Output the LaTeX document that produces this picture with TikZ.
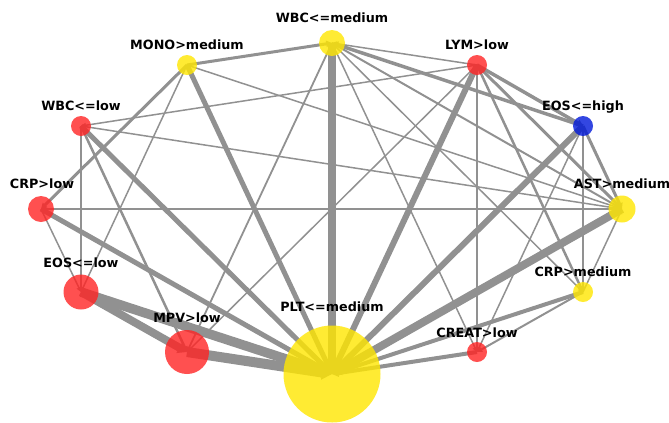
\documentclass[tikz,border=0pt]{standalone}
\usepackage{fontspec}
\setmainfont{DejaVu Sans}
\usetikzlibrary{arrows.meta,backgrounds}

\definecolor{nodered}{RGB}{255,36,36}
\definecolor{nodeyellow}{RGB}{255,230,0}
\definecolor{nodeblue}{RGB}{0,24,217}
\definecolor{edgegray}{RGB}{145,145,145}

\tikzset{
  vtx/.style={circle, draw=none, fill=#1, fill opacity=0.8, inner sep=0pt},
  lbl/.style={font=\fontsize{12.8}{15}\selectfont\bfseries, anchor=base, inner sep=0pt},
  lnk/.style={draw=edgegray, line width=#1, -{Triangle[length=4bp 0.6, width=3bp 1.1]}}
}

\begin{document}
\begin{tikzpicture}[x=1bp,y=-1bp]
\useasboundingbox (0,0) rectangle (669,422);

% nodes on an ellipse
\node[vtx=nodeyellow, minimum size=26bp] (wbcm) at (332,43) {};
\node[vtx=nodeyellow, minimum size=20bp] (mono) at (187,65) {};
\node[vtx=nodered, minimum size=20bp] (wbcl) at (81,126) {};
\node[vtx=nodered, minimum size=26bp] (crpl) at (41,209) {};
\node[vtx=nodered, minimum size=35bp] (eosl) at (81,292) {};
\node[vtx=nodered, minimum size=44bp] (mpv) at (187,352) {};
\node[vtx=nodeyellow, minimum size=97bp] (plt) at (332,374) {};
\node[vtx=nodered, minimum size=20bp] (creat) at (477,352) {};
\node[vtx=nodeyellow, minimum size=20bp] (crpm) at (583,292) {};
\node[vtx=nodeyellow, minimum size=27bp] (ast) at (622,209) {};
\node[vtx=nodeblue, minimum size=20bp] (eosh) at (583,126) {};
\node[vtx=nodered, minimum size=20bp] (lym) at (477,65) {};

\node[lbl] (lblwbcm) at (332,22.5) {WBC<=medium};
\node[lbl] (lblmono) at (187,49) {MONO>medium};
\node[lbl] (lblwbcl) at (81,110) {WBC<=low};
\node[lbl] (lblcrpl) at (42,188) {CRP>low};
\node[lbl] (lbleosl) at (81,267) {EOS<=low};
\node[lbl] (lblmpv) at (187,322) {MPV>low};
\node[lbl] (lblplt) at (332,311) {PLT<=medium};
\node[lbl] (lblcreat) at (477,337) {CREAT>low};
\node[lbl] (lblcrpm) at (583,276) {CRP>medium};
\node[lbl] (lblast) at (622,188) {AST>medium};
\node[lbl] (lbleosh) at (583,110) {EOS<=high};
\node[lbl] (lbllym) at (477,49.5) {LYM>low};

\begin{scope}[on background layer]
% into PLT<=medium
\draw[lnk=8.5bp] (wbcm.center) -- (plt.center);
\draw[lnk=8bp] (ast.center) -- (plt.center);
\draw[lnk=9.5bp] (eosl.center) -- (plt.center);
\draw[lnk=10bp] (mpv.center) -- (plt.center);
\draw[lnk=6bp] (lym.center) -- (plt.center);
\draw[lnk=6bp] (eosh.center) -- (plt.center);
\draw[lnk=5bp] (mono.center) -- (plt.center);
\draw[lnk=5bp] (wbcl.center) -- (plt.center);
\draw[lnk=5bp] (crpl.center) -- (plt.center);
\draw[lnk=4bp] (crpm.center) -- (plt.center);
\draw[lnk=4bp] (creat.center) -- (plt.center);
% into MPV>low
\draw[lnk=8bp] (eosl.center) -- (mpv.center);
\draw[lnk=2.5bp] (wbcl.center) -- (mpv.center);
\draw[lnk=1.8bp] (wbcm.center) -- (mpv.center);
\draw[lnk=1.5bp] (lym.center) -- (mpv.center);
% the rest
\draw[lnk=3bp] (mono.center) -- (wbcm.center);
\draw[lnk=3bp] (mono.center) -- (crpl.center);
\draw[lnk=3.5bp] (eosh.center) -- (wbcm.center);
\draw[lnk=3.5bp] (lym.center) -- (eosh.center);
\draw[lnk=3bp] (lym.center) -- (ast.center);
\draw[lnk=3bp] (eosh.center) -- (ast.center);
\draw[lnk=2.5bp] (lym.center) -- (crpm.center);
\draw[lnk=2.5bp] (eosh.center) -- (crpm.center);
\draw[lnk=2bp] (crpm.center) -- (creat.center);
\draw[lnk=1.5bp] (lym.center) -- (wbcm.center);
\draw[lnk=1.5bp] (wbcm.center) -- (creat.center);
\draw[lnk=1.5bp] (wbcm.center) -- (crpm.center);
\draw[lnk=2bp] (wbcm.center) -- (ast.center);
\draw[lnk=1.5bp] (lym.center) -- (wbcl.center);
\draw[lnk=1.5bp] (wbcl.center) -- (ast.center);
\draw[lnk=1.5bp] (wbcl.center) -- (eosl.center);
\draw[lnk=1.5bp] (mono.center) -- (ast.center);
\draw[lnk=1.5bp] (mono.center) -- (eosl.center);
\draw[lnk=1.5bp] (crpl.center) -- (eosl.center);
\draw[lnk=1.5bp] (ast.center) -- (crpl.center);
\draw[lnk=1.5bp] (lym.center) -- (creat.center);
\draw[lnk=1.5bp] (eosh.center) -- (creat.center);
\draw[lnk=1.5bp] (crpm.center) -- (ast.center);
\end{scope}
\end{tikzpicture}
\end{document}
